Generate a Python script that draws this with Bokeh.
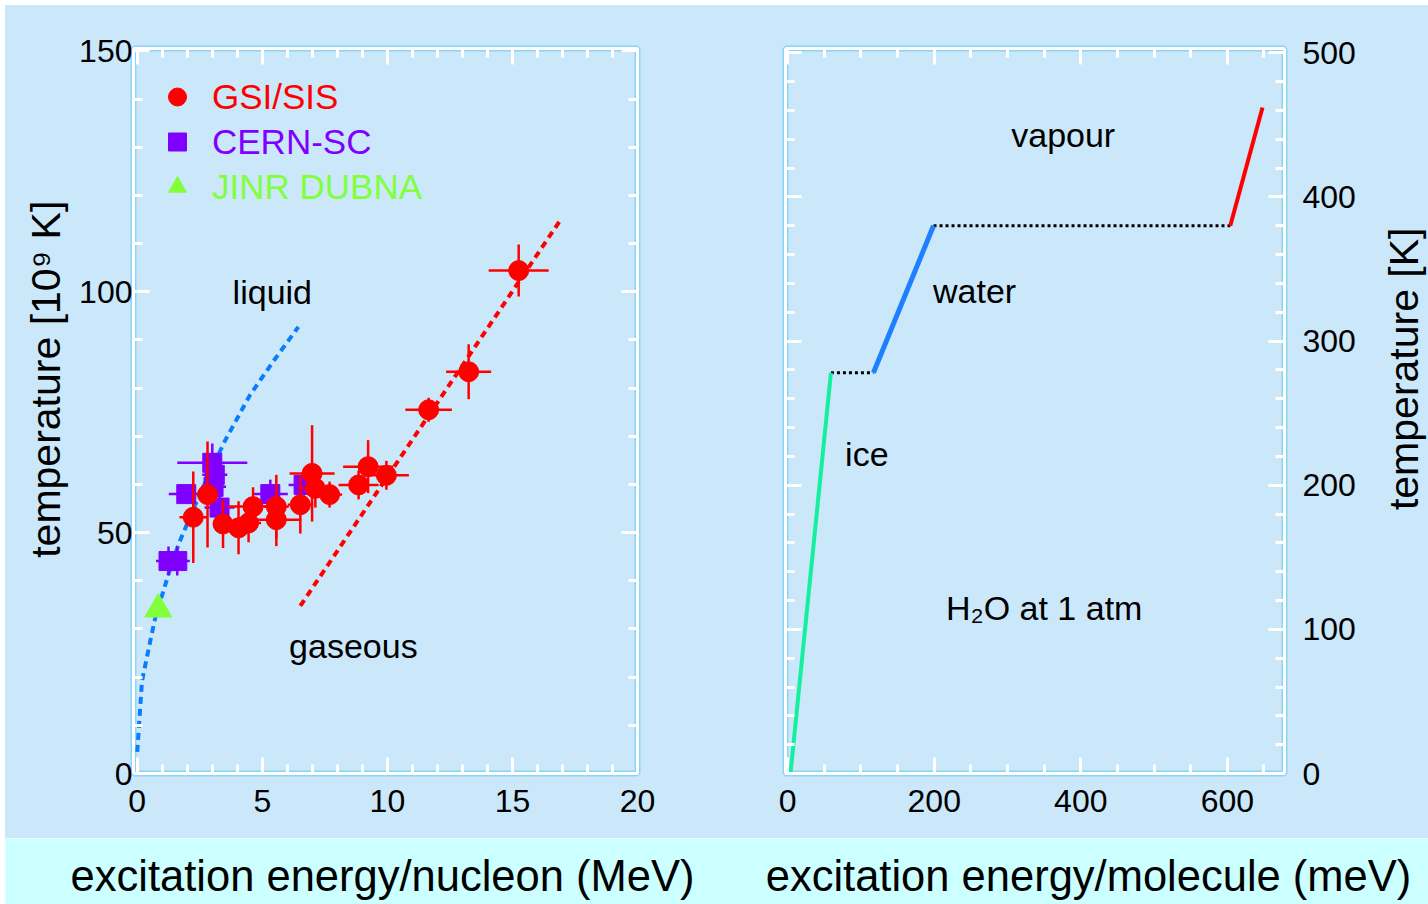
from bokeh.plotting import figure
from bokeh.models import (LinearAxis, SingleIntervalTicker, FixedTicker, Range1d, Legend, LegendItem,
                          ColumnDataSource)
from bokeh.layouts import row, column
from bokeh.core.properties import value
from bokeh.embed import file_html
from bokeh.resources import INLINE
import math

# ---------------- data: left panel (nuclear matter) ----------------
gsi_x = [2.24, 2.81, 3.43, 4.05, 4.45, 4.63, 5.56, 5.56, 6.52, 6.99, 7.12, 7.69, 8.85, 9.23, 9.96, 11.65, 13.25, 15.25]
gsi_y = [53.2, 57.9, 51.8, 51.0, 52.0, 55.4, 55.4, 52.7, 55.8, 62.3, 59.2, 57.9, 59.9, 63.7, 61.9, 75.5, 83.4, 104.4]
gsi_xerr = [0.55, 0.4, 0.4, 0.5, 0.5, 1.0, 0.5, 1.0, 0.5, 0.9, 0.6, 0.5, 0.8, 1.0, 0.9, 0.93, 0.9, 1.2]
gsi_yerr = [9.5, 11.0, 5.0, 5.5, 4.0, 4.0, 6.6, 5.5, 6.0, 10.0, 4.0, 2.7, 3.0, 5.5, 3.0, 2.5, 5.7, 5.4]

cern_x = [1.25, 1.6, 1.96, 3.0, 3.1, 3.05, 3.29, 5.32, 6.65]
cern_y = [44.1, 44.1, 58.0, 64.5, 62.0, 59.5, 55.2, 58.0, 59.9]
cern_xerr = [0.5, 0.5, 0.7, 1.4, 0.5, 0.5, 0.6, 0.7, 0.6]
cern_yerr = [3.0, 3.0, 2.0, 4.0, 3.0, 3.0, 3.0, 3.0, 2.0]

jinr_x = [0.84]
jinr_y = [34.1]

liquid_x = [0.0, 0.19, 0.52, 0.72, 1.25, 1.65, 2.5, 3.5, 4.5, 5.5, 6.44]
liquid_y = [4.5, 19.2, 27.5, 32.3, 41.4, 47.6, 58.0, 69.0, 78.5, 86.0, 92.7]

gas_x = [6.52, 16.96]
gas_y = [34.8, 115.2]

left_text = ["liquid", "gaseous"]
left_text_x = [5.4, 8.64]
left_text_y = [100.0, 26.5]

# tick positions for the label-less frame axes
left_x_major = [0, 5, 10, 15, 20]
left_x_minor = [0, 1, 2, 3, 4, 5, 6, 7, 8, 9, 10, 11, 12, 13, 14, 15, 16, 17, 18, 19, 20]
left_y_major = [0, 50, 100, 150]
left_y_minor = [0, 10, 20, 30, 40, 50, 60, 70, 80, 90, 100, 110, 120, 130, 140, 150]

# ---------------- data: right panel (water) ----------------
ice_x = [4, 59]
ice_y = [1, 278]
melt_x = [59, 117]
melt_y = [278, 278]
water_x = [117, 199]
water_y = [278, 380]
boil_x = [199, 604]
boil_y = [380, 380]
vap_x = [604, 648]
vap_y = [380, 462]

right_text = ["vapour", "water", "ice", "H\u2082O at 1 atm"]
right_text_x = [376, 255, 108, 350]
right_text_y = [443, 335, 222, 115]

right_x_major = [0, 200, 400, 600]
right_x_minor = [0, 50, 100, 150, 200, 250, 300, 350, 400, 450, 500, 550, 600, 650]
right_y_major = [0, 100, 200, 300, 400, 500]
right_y_minor = [0, 20, 40, 60, 80, 100, 120, 140, 160, 180, 200, 220, 240, 260, 280, 300,
                 320, 340, 360, 380, 400, 420, 440, 460, 480, 500]

# axis titles
left_ytitle = "temperature [10\u2079 K]"
right_ytitle = "temperature [K]"
xtitles = ["excitation energy/nucleon (MeV)", "excitation energy/molecule (meV)"]

# ---------------- styles ----------------
BG = "#CBE8FB"
STRIP = "#CCFFFF"
SHADOW = "#8DD3F7"
FONT = "Liberation Sans"
RED = "#FF0000"
PURPLE = "#7F00FF"
GREEN = "#80FF3A"
H = 833


def style_axis(ax, interval, minor):
    ax.ticker = SingleIntervalTicker(interval=interval, num_minor_ticks=minor)
    ax.axis_line_color = "white"
    ax.axis_line_width = 3
    ax.major_tick_line_color = "white"
    ax.minor_tick_line_color = "white"
    ax.major_tick_line_width = 3
    ax.minor_tick_line_width = 3
    ax.major_tick_in = 16
    ax.major_tick_out = 0
    ax.minor_tick_in = 9
    ax.minor_tick_out = 0
    ax.major_label_text_font = FONT
    ax.major_label_text_color = "black"
    ax.major_label_text_font_size = "32px"


def tick_axis(positions, length):
    ax = LinearAxis(ticker=FixedTicker(ticks=[], minor_ticks=positions))
    ax.axis_line_color = "white"
    ax.axis_line_width = 3
    ax.minor_tick_line_color = "white"
    ax.minor_tick_line_width = 3
    ax.minor_tick_in = length
    ax.minor_tick_out = 0
    ax.major_tick_in = 0
    ax.major_tick_out = 0
    ax.major_label_standoff = 0
    return ax


def title_strip(width, text, cx, cy):
    f = figure(width=width, height=H, x_range=Range1d(0, width), y_range=Range1d(0, H),
               output_backend="svg", toolbar_location=None, min_border=0,
               background_fill_color=BG, border_fill_color=BG)
    f.axis.visible = False
    f.grid.visible = False
    f.outline_line_color = None
    f.text(x=[cx], y=[cy], text=[text], angle=math.pi / 2, text_font=value(FONT),
           text_font_size="41px", text_color="black", text_align="center", text_baseline="middle")
    return f


# ---------------- left title column ----------------
t1 = title_strip(70, left_ytitle, 40, H - 380)

# ---------------- left panel ----------------
p1 = figure(width=635, height=H, x_range=Range1d(-0.15, 20), y_range=Range1d(0, 150.5),
            output_backend="svg", toolbar_location=None,
            min_border_left=58, min_border_right=73, min_border_top=43, min_border_bottom=65,
            background_fill_color=BG, border_fill_color=BG)
p1.grid.visible = False
p1.outline_line_color = SHADOW
p1.outline_line_width = 6

style_axis(p1.xaxis[0], 5, 5)
style_axis(p1.yaxis[0], 50, 5)
p1.xaxis[0].major_label_standoff = 16
p1.yaxis[0].major_label_standoff = 1
p1.add_layout(tick_axis(left_x_minor, 9), "above")
p1.add_layout(tick_axis(left_x_major, 16), "above")
p1.add_layout(tick_axis(left_y_minor, 9), "right")
p1.add_layout(tick_axis(left_y_major, 16), "right")

p1.line(liquid_x, liquid_y, line_color="#0A7CFF", line_width=4, line_dash="7 5")
p1.line(gas_x, gas_y, line_color=RED, line_width=4, line_dash="7 5")

cern_src = ColumnDataSource(dict(x=cern_x, y=cern_y,
                                 x0=[a - e for a, e in zip(cern_x, cern_xerr)],
                                 x1=[a + e for a, e in zip(cern_x, cern_xerr)],
                                 y0=[a - e for a, e in zip(cern_y, cern_yerr)],
                                 y1=[a + e for a, e in zip(cern_y, cern_yerr)]))
p1.segment(x0="x0", x1="x1", y0="y", y1="y", source=cern_src, line_color=PURPLE, line_width=2.5)
p1.segment(x0="x", x1="x", y0="y0", y1="y1", source=cern_src, line_color=PURPLE, line_width=2.5)
r_cern = p1.scatter("x", "y", source=cern_src, marker="square", size=19,
                    fill_color=PURPLE, line_color=PURPLE)

gsi_src = ColumnDataSource(dict(x=gsi_x, y=gsi_y,
                                x0=[a - e for a, e in zip(gsi_x, gsi_xerr)],
                                x1=[a + e for a, e in zip(gsi_x, gsi_xerr)],
                                y0=[a - e for a, e in zip(gsi_y, gsi_yerr)],
                                y1=[a + e for a, e in zip(gsi_y, gsi_yerr)]))
p1.segment(x0="x0", x1="x1", y0="y", y1="y", source=gsi_src, line_color=RED, line_width=2.5)
p1.segment(x0="x", x1="x", y0="y0", y1="y1", source=gsi_src, line_color=RED, line_width=2.5)
r_gsi = p1.scatter("x", "y", source=gsi_src, marker="circle", size=20,
                   fill_color=RED, line_color=RED)

r_jinr = p1.scatter(jinr_x, jinr_y, marker="triangle", size=27, fill_color=GREEN, line_color=GREEN)

p1.text(x=left_text_x, y=left_text_y, text=left_text, text_font=value(FONT),
        text_font_size="34px", text_color="black", text_align="center", text_baseline="middle")

legend_specs = [("GSI/SIS", r_gsi, RED, 654), ("CERN-SC", r_cern, PURPLE, 609), ("JINR DUBNA", r_jinr, GREEN, 564)]
for lab, rend, col, ypos in legend_specs:
    lg = Legend(items=[LegendItem(label=lab, renderers=[rend])], location=(21, ypos),
                glyph_width=46, glyph_height=45, label_standoff=12,
                label_text_font=FONT, label_text_font_size="35px", label_text_color=col,
                border_line_color=None, background_fill_alpha=0, padding=0, margin=0)
    p1.add_layout(lg, "center")

# ---------------- right panel ----------------
p2 = figure(width=668, height=H, x_range=Range1d(-3, 678), y_range=Range1d(0, 503),
            y_axis_location="right", output_backend="svg", toolbar_location=None,
            min_border_left=75, min_border_right=94, min_border_top=40, min_border_bottom=65,
            background_fill_color=BG, border_fill_color=BG)
p2.grid.visible = False
p2.outline_line_color = SHADOW
p2.outline_line_width = 6

style_axis(p2.xaxis[0], 200, 4)
style_axis(p2.yaxis[0], 100, 5)
p2.xaxis[0].major_label_standoff = 16
p2.yaxis[0].major_label_standoff = 18
p2.add_layout(tick_axis(right_x_minor, 9), "above")
p2.add_layout(tick_axis(right_x_major, 16), "above")
p2.add_layout(tick_axis(right_y_minor, 9), "left")
p2.add_layout(tick_axis(right_y_major, 16), "left")

p2.line(melt_x, melt_y, line_color="black", line_width=3, line_dash="3 3")
p2.line(boil_x, boil_y, line_color="black", line_width=3, line_dash="3 3")
p2.line(ice_x, ice_y, line_color="#14F0A0", line_width=4)
p2.line(water_x, water_y, line_color="#1E80FF", line_width=5)
p2.line(vap_x, vap_y, line_color=RED, line_width=4)

p2.text(x=right_text_x, y=right_text_y, text=right_text, text_font=value(FONT),
        text_font_size="34px", text_color="black", text_align="center", text_baseline="middle")

# ---------------- right title column ----------------
t2 = title_strip(50, right_ytitle, 25, H - 368)

# ---------------- bottom strip with x-axis titles ----------------
strip = figure(width=1423, height=66, x_range=Range1d(0, 1423), y_range=Range1d(0, 66),
               output_backend="svg", toolbar_location=None, min_border=0,
               background_fill_color=STRIP, border_fill_color=STRIP)
strip.axis.visible = False
strip.grid.visible = False
strip.outline_line_color = None
xtitle_x = [377, 1083]
xtitle_y = [29, 29]
strip.text(x=xtitle_x, y=xtitle_y, text=xtitles, text_font=value(FONT), text_font_size="43.5px",
           text_color="black", text_align="center", text_baseline="middle")

layout = column(row(t1, p1, p2, t2, styles={"background-color": BG}), strip, margin=(5, 0, 0, 5))
open("out.html", "w").write(file_html(layout, INLINE))
